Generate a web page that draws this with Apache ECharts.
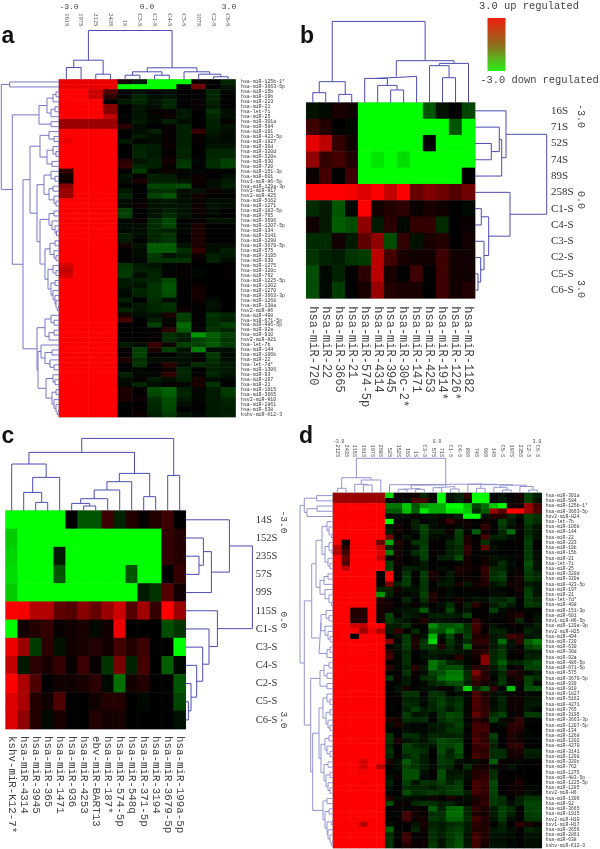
<!DOCTYPE html>
<html>
<head>
<meta charset="utf-8">
<title>miRNA heatmaps</title>
<script src="https://cdn.jsdelivr.net/npm/echarts@6/dist/echarts.min.js"></script>
<style>
html, body { margin: 0; padding: 0; background: #fff; }
#chart { width: 600px; height: 849px; }
</style>
</head>
<body>
<div id="chart"></div>
<script>
// panel a
var aCols = ["161S","197S","212S","243S","1S","C3-S","C1-S","C4-S","C5-S","107S","C2-S","C6-S"];
var aRows = ["hsa-miR-125b-1*","hsa-miR-3663-5p","hsa-miR-15b","hsa-miR-19b","hsa-miR-223","hsa-miR-21","hsa-let-7i","hsa-miR-25","hsa-miR-301a","hsa-miR-584","hsa-miR-191","hsa-miR-423-5p","hsa-miR-1827","hsa-miR-30d","hsa-miR-320d","hsa-miR-320e","hsa-miR-630","hsa-miR-720","hsa-miR-151-3p","hsa-miR-601","hsv1-miR-H6-5p","hsa-miR-129a-3p","hsv1-miR-H17","hsv2-miR-H25","hsa-miR-5162","hsa-miR-1271","hsa-miR-183-5p","hsa-miR-765","hsa-miR-3696","hsa-miR-1207-5p","hsa-miR-134","hsa-miR-3141","hsa-miR-1298","hsa-miR-3679-5p","hsa-miR-575","hsa-miR-3195","hsa-miR-939","hsa-miR-1275","hsa-miR-320c","hsa-miR-762","hsa-miR-1225-5p","hsa-miR-1202","hsa-miR-1270","hsa-miR-3663-3p","hsa-miR-1268","hsa-miR-138a","hsv2-miR-H6","hsa-miR-498","hsa-miR-671-5p","hsa-miR-486-5p","hsa-miR-92a","hsa-miR-910","hsv2-miR-H21","hsa-let-7b","hsa-miR-144","hsa-miR-106b","hsa-miR-22","hsa-let-7d*","hsa-miR-1306","hsa-miR-93","hsa-miR-197","hsa-miR-21","hsa-miR-1915","hsa-miR-3665","hsv2-miR-H10","hsa-miR-2861","hsa-miR-638","kshv-miR-K12-3"];
var aValues = [
[2.8,2.8,2.8,2.8,.3,-.4,-3,-3,-3,.2,0,-.6],
[2.8,2.8,2.8,2.8,-3,-3,-3,-3,0,1.6,0,-.3],
[3,3,2.5,1.2,0,-.2,.1,-.2,0,0,-.6,-.1],
[3,3,2.5,.6,-.1,-.6,-.2,-.3,0,0,-.6,0],
[3,3,3,0,-.4,-.6,-.3,-.6,0,.1,-.5,0],
[3,3,3,1.8,0,-.3,-.2,-.6,0,.1,-.4,0],
[3,3,3,1.8,0,-.3,.1,.1,-.4,0,-.8,-.2],
[3,3,3,2.4,-.1,-.3,-.1,.2,-.4,0,-.6,-.2],
[2,2,2,2,.1,-.4,-.1,-.5,-.2,0,-.5,.1],
[2,2,2,2,.6,-.2,0,.1,-.5,0,-.5,-.3],
[3,3,3,3,0,-.2,-.5,.1,-.5,.8,-.4,-.2],
[3,3,3,3,0,-.4,-.2,.1,-.5,.1,-.3,-.1],
[2.8,3,3,3,-.4,-.1,-.2,.1,-.5,.1,-.2,-.2],
[3,3,3,3,0,-.5,-.4,.2,-.5,0,-.3,-.3],
[3,3,3,3,0,-.6,-.4,.1,-.6,0,-.6,-.6],
[3,3,3,3,0,-.6,-.4,.1,-.5,0,-.6,-.6],
[3,3,3,3,.6,-.3,-.5,.3,-.8,-.1,-.7,-1],
[3,3,3,3,.7,-.6,-.5,.1,-.9,0,-.7,-1],
[.7,3,3,3,0,-.9,-.1,.2,-.1,-.1,0,0],
[.3,3,3,3,-.3,0,-.5,-.4,-.1,.2,0,-.2],
[.2,3,3,3,-.2,.4,-.5,-.5,-.3,.2,-.2,-.4],
[1.8,3,3,3,0,0,-1.1,-1.1,-1.2,.1,-.2,-.5],
[2,3,3,3,-.4,0,-.7,-.8,-.2,-.3,.2,-.1],
[2,3,3,3,-.6,0,-1,-1.3,-.2,.3,0,0],
[3,3,3,3,-.2,.1,-.3,-.4,-.2,.1,-.2,-.2],
[3,3,3,3,-.2,.2,-.3,-.3,-.3,.2,-.3,-.2],
[3,3,3,3,-1,0,-.3,-.5,-.3,.2,-.2,0],
[3,3,3,3,-1,0,-.3,-.7,-.3,.1,-.1,0],
[3,3,3,3,-.1,.1,-.7,-1.1,0,.1,-.3,-.3],
[3,3,3,3,-.2,-.2,-.7,-1.1,-.1,.4,0,0],
[3,3,3,3,-.1,-.2,-.6,-.5,-.1,.4,0,0],
[3,3,3,3,-.5,-.2,-.6,-.8,0,.4,0,0],
[3,3,3,3,-.4,0,-.6,-.8,0,.4,0,0],
[3,3,3,3,.3,-.3,-1.4,-1.4,-.3,.4,-.2,-.2],
[3,3,3,3,0,-.2,-1.4,-1.4,-.7,.7,-.2,-.5],
[3,3,3,3,.1,-.2,-.9,-.3,-.5,.2,-.5,-.4],
[3,3,3,3,0,-.1,-.8,-.8,-.8,.1,-.5,-.2],
[2.6,3,3,3,-.8,-.4,-.3,-.1,.1,0,0,0],
[2.4,3,3,3,-.9,-.5,-.5,-.1,.1,-.1,0,.1],
[2.6,3,3,3,-.9,-.2,-.6,0,.1,-.1,0,.1],
[3,3,3,3,-.4,-.5,-.6,-1.1,0,0,0,0],
[3,3,3,3,-.4,-.3,-.8,-1.3,0,.2,0,0],
[3,3,3,3,-.2,-.6,-.8,-1.3,0,.3,0,0],
[3,3,3,3,-.1,-.5,-.8,-1.2,0,.3,0,0],
[3,3,3,3,-.5,0,-.7,-.2,0,.2,-.2,0],
[3,3,3,3,-.1,-.4,-.6,-.8,0,.1,-.3,0],
[3,3,3,3,-.6,-.3,-.6,-.7,.2,0,-.2,0],
[3,3,3,3,.3,-.2,-.3,.4,-1,0,-.8,-.6],
[3,3,3,3,1,0,-.5,-.1,-1,.1,-.7,-.5],
[3,3,3,3,0,0,-1,.1,-1.6,0,-.7,-1],
[3,3,3,3,0,0,0,.6,-1.4,0,-.8,-.6],
[3,3,3,3,0,0,.1,-.7,-.5,-2,-1.5,-1],
[3,3,3,3,0,0,.1,-.7,-.4,-1,-1.3,-.8],
[3,3,3,3,-.4,-.2,.8,.2,-1,-1,-1.4,-.9],
[3,3,3,3,.1,-1,.4,-1,-.3,-1.8,-.2,-.2],
[3,3,3,3,.1,-1,0,0,-.3,-.1,-.9,-.1],
[3,3,3,3,.4,-.7,-.2,-.2,-.2,.1,-.7,-.2],
[3,3,3,3,0,-.8,0,.6,-.2,-.7,-.6,-.4],
[3,3,3,3,0,-.1,0,.2,-.6,0,-.5,-.4],
[3,3,3,3,-.5,-.1,-.1,.7,-.6,.1,-.6,-.3],
[3,3,3,3,-.2,.1,-.4,-.2,-.5,.3,-.2,-.1],
[3,3,3,3,-.1,-.6,-.2,.1,-.1,.4,-.8,0],
[3,3,3,3,.4,.1,-1.2,-1.5,-.5,-.1,-.4,-.9],
[3,3,3,3,.4,.1,-1.1,-1.5,-.6,-.1,-.4,-.9],
[3,3,3,3,.4,.2,-.7,-1.2,-.4,-.1,-.4,-.6],
[3,3,3,3,0,0,-.6,-1.2,-.2,0,-.4,-.5],
[3,3,3,3,0,.1,-.6,-1.1,0,0,-.4,-.4],
[3,3,3,3,0,.2,-.5,-.9,-.3,-.1,-.4,-.5]
];
// dendrograms are written [height, child, child], a bare number is a leaf index
var aTopTree = [49,
  [19.3,[12,0,1],[5.3,2,3]],
  [11.7,[7.7,[4.3,4,5],[4.3,6,7]],[7.7,8,[5.3,9,[2.7,10,11]]]]];
var aSideTree = [57.7,
  [49.3,0,1],
  [46.7,
    [20,[12,[6,[3,2,3],4],[8,[4,5,6],7]],[8,8,9]],
    [36,
      [29,
        [19,[10,10,[5,11,12]],[12,[6,13,[3,14,15]],[7,16,17]]],
        [22,
          [15,[8,18,[4,19,20]],[10,[6,21,22],[5,23,[3,24,25]]]],
          [19,
            [10,[5,26,27],[7,28,[4,29,[2.5,30,31]]]],
            [14,[9,[4,32,33],[5,34,[3,35,36]]],[11,[6,37,[3,38,39]],[8,[4,40,41],[6,42,[4,43,[3,44,[2,45,46]]]]]]]]]],
      [22,
        [14,[8,47,[5,48,49]],[10,[5,50,51],52]],
        [21,
          [18,53,[14,[7,54,55],[9,56,[5,57,58]]]],
          [13,[6,59,[4,60,61]],[7,[3,62,63],[5,64,[3,65,[2,66,67]]]]]]]]]];

// panel b
var bCols = ["hsa-miR-720","hsa-miR-22","hsa-miR-3665","hsa-miR-21","hsa-miR-574-5p","hsa-miR-4314","hsa-miR-3945","hsa-miR-30c-2*","hsa-miR-1471","hsa-miR-4253","hsa-miR-1914*","hsa-miR-1226*","hsa-miR-1182"];
var bRows = ["16S","71S","52S","74S","89S","258S","C1-S","C4-S","C3-S","C2-S","C5-S","C6-S"];
var bValues = [
[-.2,-.1,.3,.2,-3,-3,-3,-3,-3,-1,-.2,0,-.8],
[.7,.4,0,-.1,-3,-3,-3,-3,-3,-3,-3,-1,-3],
[2.7,2.2,.6,.2,-3,-3,-3,-3,-3,0,-3,-3,-3],
[1.7,.6,.8,.4,-3,-2.7,-3,-2.6,-3,-3,-3,-3,-3],
[.1,.8,0,.7,-3,-3,-3,-3,-3,-3,-3,-3,0],
[3,3,3,2.9,2.6,3,2.3,3,1.2,1.5,1.3,1,1.3],
[-.5,-.3,-1,-.1,3,.2,.4,.5,.1,.3,.2,0,-.1],
[.2,-.3,-1.1,-.9,1.7,-.3,.5,-.1,.6,.6,-.5,0,.1],
[-.5,-.5,.2,-.3,1.1,1.7,-.9,.6,-.2,.3,.4,0,.2],
[-.6,-.4,-.3,-.6,-.7,2.2,.8,.3,.2,.2,.7,.2,.2],
[-.9,-.1,-.4,0,.5,2.2,.3,0,.7,0,.7,.2,.2],
[-.9,-.1,-.7,0,.3,1.8,.4,.3,.3,0,.7,.2,.4]
];
var bTopTree = [81.3,
  [21,[10,0,1],[8.3,2,3]],
  [42,
    [26.3,[24.3,4,[17.3,5,[12.7,6,7]]],8],
    [39.3,[37,9,[25,10,11]],12]]];
var bSideTree = [71.7,
  [31,0,[26.7,[24.3,1,[16.3,2,3]],4]],
  [35,5,[13.7,[6.3,6,7],[9,8,[5.7,9,[3,10,11]]]]]];

// panel c
var cCols = ["kshv-miR-K12-7*","hsa-miR-4314","hsa-miR-3945","hsa-miR-365","hsa-miR-1471","hsa-miR-936","hsa-miR-4253","ebv-miR-BART13","hsa-miR-187*","hsa-miR-574-5p","hsa-miR-548q","hsa-miR-371-5p","hsa-miR-3194","hsa-miR-3679-5p","hsa-miR-199a-5p"];
var cRows = ["14S","152S","235S","57S","99S","115S","C1-S","C3-S","C4-S","C2-S","C5-S","C6-S"];
var cValues = [
[-3,-3,-3,-3,-3,0,-1,-1,.7,-.4,.4,.1,.4,.7,0],
[-2.4,-3,-3,-3,-3,-3,-3,-3,-3,-3,-3,-3,-3,.6,.4],
[-2.5,-3,-3,-3,-.3,-3,-3,-3,-3,-3,-3,-3,-3,.6,.4],
[-2.6,-3,-3,-3,-1,-3,-3,-3,-3,-3,-1,-3,-3,0,.6],
[-2.4,-3,-3,-3,-3,-3,-3,-3,-3,-3,-3,-.3,-.6,1,.2],
[3,2.9,2.1,2.1,1.1,1,1.6,1.2,1.8,2.4,1,1.9,.6,3,1.8],
[-3,.2,.4,.6,.1,.2,.3,-.1,.2,2.8,0,0,0,-.9,-.6],
[2.8,1.8,-.7,.5,-.2,.2,.3,.4,.2,.8,.4,.7,0,0,-3],
[2.3,-.3,.5,.3,.6,.1,.7,.1,-.6,1.4,-.4,.8,0,-1.1,-.1],
[3,2,.9,0,.2,.2,.3,.5,-.1,-1.3,.2,.4,0,0,-1],
[2.6,2,.4,.2,.9,0,0,.2,.4,.4,0,-.1,0,0,-.8],
[2.6,1.7,.4,-.1,.3,0,0,.4,.2,.3,0,0,0,0,-.2]
];
var cTopTree = [72.3,
  [58.3,
    [46.7,0,[33.3,[18.3,1,[8.3,2,3]],4]],
    [37.3,[29,[20.7,[12,[7.3,5,[4.7,6,7]],8],9],10],[14,11,12]]],
  [35.3,13,14]];
var cSideTree = [66.7,
  [43.7,0,[25.7,[17.7,1,[13.3,2,3]],4]],
  [31.7,5,[23.3,6,[17,7,[11,8,[5.3,9,[2.7,10,11]]]]]]];

// panel d
var dCols = ["212S","243S","115S","161S","197S","268S","52S","152S","16S","1S","C3-S","57S","71S","C1-S","C4-S","89S","74S","99S","14S","C5-S","107S","235S","C2-S","C6-S"];
var dRows = ["hsa-miR-301a","hsa-miR-584","hsa-miR-125b-1*","hsa-miR-3663-5p","hsv2-miR-H24","hsa-let-7b","hsa-miR-106b","hsa-miR-144","hsa-miR-22","hsa-miR-223","hsa-miR-19b","hsa-miR-15b","hsa-miR-21","hsa-let-7i","hsa-miR-25","hsa-miR-320d","hsa-miR-320e","hsa-miR-423-5p","hsa-miR-197","hsa-miR-21","hsa-let-7d*","hsa-miR-498","hsa-miR-151-3p","hsa-miR-601","hsv1-miR-H6-5p","hsa-miR-129a-3p","hsv2-miR-H25","hsa-miR-494","hsa-miR-720","hsa-miR-630","hsa-miR-30d","hsa-miR-92a","hsa-miR-486-5p","hsa-miR-671-5p","hsa-miR-575","hsa-miR-3679-5p","hsa-miR-939","hsa-miR-910","hsa-miR-1827","hsa-miR-5162","hsa-miR-4271","hsa-miR-765","hsa-miR-3195","hsa-miR-3663-3p","hsa-miR-1207-5p","hsa-miR-134","hsa-miR-1268","hsa-miR-1202","hsa-miR-4270","hsa-miR-3141","hsa-miR-1298","hsa-miR-320c","hsa-miR-762","hsa-miR-1275","hsa-miR-483-5p","hsa-miR-1225-5p","hsa-miR-1285","hsv2-miR-H6","hsa-miR-1306","hsa-miR-92","hsa-miR-3665","hsa-miR-1915","hsv2-miR-H10","hsv1-miR-H17","hsa-miR-3656","hsa-miR-2861","hsa-miR-638","kshv-miR-K12-3"];
var dValues = [
[2,2,2,2,2,2,-2.6,.1,.1,.3,-.6,0,-3,-.3,-.5,.6,-3,-3,0,-.3,0,.3,-1,-.5],
[2,2,2,2,2,2,.1,.2,-.2,1,1,.1,-3,-.2,-.6,.3,-3,-3,0,-.4,0,.2,-1,-.3],
[3,3,3,3,3,3,-1.7,-1.7,-2.5,-1.3,-2,-2.2,-2.2,-3,-3,-2.4,-1,-1.6,-2.5,-3,.3,.3,2,1],
[3,3,3,3,3,3,-1.4,-1.4,-2.4,-1.4,-2.8,-2.2,-2.2,-2.8,-2.8,-2.5,-.6,-1.4,2,1.3,3,3,2,1.2],
[3,3,3,3,3,3,0,-.2,-.2,.2,-.2,-.3,-.1,-.2,-.5,-3,-3,-.2,.5,.5,-.6,-.2,-1,-.8],
[3,3,3,3,3,3,-3,.1,.1,-.5,0,-.2,.2,.8,.2,.2,0,.2,0,-1,-.4,0,-1,-.7],
[3,3,3,3,3,3,-.3,.3,0,-.5,-1,-.2,-.1,0,-.1,.2,0,.7,0,-.8,-.2,.1,-.7,-.3],
[3,3,3,3,3,3,-.5,.3,0,-.2,-1,-.4,-.4,.2,-1,.1,-1.4,.3,0,-.6,-1.6,0,-.6,-.3],
[3,3,3,3,3,3,1.6,0,-.3,0,-.9,-.2,-.1,-.2,-.9,.4,0,1,-.5,-.6,-.2,.1,-.8,-.3],
[3,0,3,3,3,1.5,-2.2,.5,.1,-.8,-.9,.1,0,-.6,-.9,.4,.1,-.8,-.1,-.1,0,.1,-1,0],
[2.3,.6,3,3,3,2.4,-.6,.3,0,-.2,-1,.1,0,-.4,-.7,.8,0,1.3,-.2,-.1,0,0,-.9,0],
[2.3,1,3,3,3,2.7,-1.8,.3,-.1,-.7,-1,.1,-.1,-.5,-.7,.6,0,-.1,-.1,0,0,.1,-.9,-.2],
[3,1.5,3,3,3,2.4,0,.3,0,-.2,-1,.1,-.5,-.5,-1.2,.3,0,.2,-.3,-.2,-.1,.1,-.9,-.2],
[3,1.2,3,3,3,3,-1,.2,0,-.1,-.4,0,0,0,-.1,.3,0,.3,-.2,-.7,-.2,0,-1.3,-.3],
[3,2.4,3,3,3,3,-1,.1,-.5,-.4,-.4,0,-.2,-.1,.4,.3,.2,.7,-.6,-.6,-.1,.1,-1,-.3],
[3,3,3,3,3,0,3,0,-.8,0,-.9,.4,0,-.4,.3,.2,0,.6,-.7,-.9,0,.2,-.9,-.6],
[3,3,3,3,3,0,3,0,-.9,0,-.9,.3,-.2,-.4,.1,.2,.1,.5,-.8,-.9,.1,.3,-.9,-.7],
[3,3,3,3,3,.1,1.6,-.5,-.9,-.1,-.8,0,-.4,-.4,.3,-.4,.3,.5,-.3,-.6,.3,.3,-.4,-.3],
[3,3,3,3,3,-.6,-.5,.3,-.3,-.3,-.8,.1,.1,-.2,0,.1,.1,.1,-.2,-.1,.1,.3,-.9,-.3],
[3,3,3,3,3,-2,-.5,.1,-.1,-.2,-1,.5,.1,-.2,0,-.1,-.1,0,-.2,-.2,0,.2,-1,-.3],
[3,3,3,3,3,.5,.1,0,-.6,0,-.7,.4,0,-.1,.3,-.1,-.3,-.2,-.6,-.5,-.8,0,-.9,-.6],
[3,3,3,3,3,.3,.3,0,-.2,.1,-.3,0,-.2,-.7,.1,-.5,.6,.1,-.4,-.8,-.4,0,-.9,-.8],
[3,3,.5,.5,3,.3,.2,-.2,-.3,-.4,-1.4,-.1,-.1,-1.1,-.1,-.3,0,0,-1,-.2,.2,.1,-.1,-.1],
[3,3,.5,.5,3,.3,-1,.1,-.5,-.3,-.1,-.5,-.5,-.5,-.4,-1,0,.1,-.2,-.1,.3,.5,0,-.3],
[3,3,.5,.5,3,.3,-.9,-.5,-.3,.1,.5,-.2,-.3,-.2,-.1,-.1,.7,.1,0,0,.2,-.6,.1,-.3],
[3,3,2.6,2.4,3,3,-.5,-.4,-.7,.1,-.1,-1.9,-1.3,-1.3,-1.5,-.7,1,.2,-.3,-.1,.2,0,-.2,-.5],
[3,3,3,2,2.8,2.2,-.4,.8,.1,-.7,-.1,-1.4,-1.2,-1.9,-1.2,-.8,.9,.1,-.5,-.5,-.1,.1,-.6,-.3],
[3,3,0,3,3,3,.1,-.3,-.9,.3,-.3,-2.3,-.3,-1.1,.1,-1,.4,.4,-.3,-.5,1,.7,-.3,-.4],
[3,3,3,3,3,3,1.8,-.1,-.9,.5,-.8,-2.6,.1,-.8,-.3,-.6,.6,.7,-.4,-1.6,-.2,.7,-1.4,-1.8],
[3,3,3,3,3,3,0,-.3,-.9,.3,-.8,-.8,.5,-.6,-.2,-1.6,.3,.3,-.4,-.7,-.2,.1,-1,-1.3],
[3,3,3,3,3,3,.7,-.2,-.6,0,-.2,-.5,-.4,-.5,-.3,-.2,.4,.6,-.6,-.9,-.1,.2,-.4,-.4],
[3,3,3,3,3,3,1,-.1,-.7,0,-.3,-.3,-.2,-.1,.6,-.1,.3,1.8,-.6,-.9,0,.1,-.5,-.5],
[3,3,3,3,3,3,.1,-.1,-.7,0,-.1,-1.7,-1.3,-.6,-.4,-.1,.1,1.8,-.7,-1.4,-.5,-.6,-.9,-1.2],
[3,3,3,3,3,3,.6,-.1,-.5,.6,-.4,-1.7,-1,-1.2,-1.2,-.3,.6,.5,-.3,-1,0,.2,-1,-1],
[3,3,3,3,3,3,0,.1,-.8,.2,-.2,-1,-1.2,-1.7,-1.7,-.6,1.7,.5,-.2,-.6,.6,.3,-.1,-.4],
[3,3,3,3,3,3,-.9,.2,-.4,.1,-.7,-.8,-1.6,-1.8,-1.8,-.7,1,.6,0,-.8,.2,.4,-1,-.7],
[3,3,3,3,3,3,.1,-.1,-.4,0,-.1,-.6,-.8,-1.2,-1.3,-.5,.6,.3,-.2,-.8,-.1,.2,-1,-.2],
[3,3,3,3,3,3,0,-.3,.3,-.1,-.2,-.2,.2,.1,-.7,-2.6,-.6,-1.4,.7,-.1,-2.4,0,-1.2,-1.3],
[3,3,3,3,3,3,.1,-.2,-.8,-.8,0,-.8,-.7,-.1,-.2,0,1,.4,-.2,-.3,.1,.1,-.1,-.1],
[3,3,3,3,3,3,.1,.1,-.5,-.5,-.2,-.7,-.9,-.5,-.7,-.1,1.1,.6,-.2,-.6,.2,.2,-.3,-.3],
[3,3,3,3,3,3,-.1,.1,-.7,-.6,-.1,-.6,-1,-.6,-.9,-.1,1.1,.6,-.1,-.5,.2,.2,-.4,-.4],
[3,3,3,3,3,3,-.1,0,-.5,-1,-.4,-.6,-.8,-.4,-.8,-.1,1,.7,-.3,-.5,.2,.2,-.3,-.1],
[3,3,3,3,3,3,0,.1,-.9,-.3,-.4,-.1,-.8,-1.2,-1,-.1,1.4,.7,-.7,-1,0,.2,-.9,-.9],
[3,3,3,3,3,3,.5,.3,-.7,-.6,-.7,0,-.7,-1,-.8,0,.6,.3,-1,-.2,.2,.7,-.1,-.1],
[3,3,3,3,3,3,-.2,.4,-.2,-.1,-.1,-.4,-.4,-.6,-1,-.2,1,.8,-.1,-.2,.6,.6,0,0],
[3,3,3,3,3,3,0,0,-.2,-.1,-.1,-.3,-.4,-.8,-.8,0,1,.9,0,0,.6,.5,-.1,0],
[3,3,3,3,3,3,-.8,0,-.7,-.7,-.2,-.6,-.5,-.5,-.6,-.1,.9,.6,-1,0,.5,.2,-.1,-.1],
[3,3,3,3,3,3,-.8,.4,-.3,-.5,-.3,-.7,-1.2,-1,-.9,0,1.1,.6,-.7,0,.4,.3,-.1,-.1],
[3,3,3,3,3,3,-.5,.1,-1,-.6,-.5,-.3,-1.1,-1,-1.3,0,.8,.9,-.5,0,.6,.7,0,0],
[3,3,3,3,3,3,-.8,0,-.9,-.9,-.7,0,-1.2,-.5,-1.3,0,.8,.6,-.7,-.7,.3,.4,-.5,-.5],
[3,3,3,3,3,3,-.6,.1,-.6,-.9,-.4,0,-.9,-.6,-1,-.1,1,.7,-.7,-.7,.3,.2,-.4,-.4],
[3,3,3,2.6,3,3,.4,-.3,-1.4,-.8,-.4,-.1,-.9,-.8,-.2,-.1,-.2,.2,-1.4,.1,.1,-.1,0,.1],
[3,3,3,2.6,3,2.3,.1,-.2,-1,-.8,-.5,-.2,-.7,-.6,0,-.7,.3,.3,-.2,.1,-.3,0,0,.1],
[3,3,3,2.9,3,3,-.1,-.1,-1.2,-1.2,-.3,0,-1.2,-.3,-.3,-.2,.5,.5,-.7,0,0,0,0,0],
[3,3,3,3,3,3,-.3,.2,-1.2,-1.2,-.1,0,-1.2,-.4,-.5,-.2,.5,.7,-.7,.1,0,.2,0,0],
[3,3,3,2.9,3,3,-.5,0,-1,-.3,-.8,-.7,-1,-.5,-.9,-.1,1,.8,-1.1,0,.2,.4,0,0],
[3,3,3,3,3,3,-.3,0,-.7,-.6,-.6,-.4,-.7,-.9,-1,0,1,.7,-1,0,.2,.3,-.1,-.1],
[3,3,3,3,3,3,-.1,0,-1.2,-.7,-.8,-.9,-.7,-.9,-1,-.4,.9,.7,-1,0,.2,.2,-.2,-.1],
[3,3,3,3,3,3,.5,-.2,-.2,-.2,-.1,.2,0,.4,.1,-.2,.4,.6,-.9,-.7,0,-.5,-.8,-.8],
[3,3,3,3,3,3,-1.2,.1,.1,-.6,-.8,-.7,-.4,-.6,-.2,-.1,.4,.7,-.9,-.7,-.2,-.5,-1.1,-1],
[3,3,3,3,3,3,0,.1,-.1,.2,0,-1.5,-.5,-1.5,-1.6,-.6,.7,.4,-.4,-1,-.7,.1,-1,-1.1],
[3,3,3,3,3,3,0,-.1,1,.3,.1,-.7,-.7,-1.6,-1.6,-.6,.4,.3,-.4,-1,-.5,.1,-.9,-1],
[3,3,3,3,3,3,.1,.1,.9,.2,.3,-.9,-.7,-1.5,-1.5,-.7,1,.5,-.3,-.9,-.2,0,-.8,-.9],
[3,3,3,2.3,3,3,-.3,0,.1,-.3,.3,-.5,-.4,-.6,-.8,-.4,.6,.4,.1,-.5,0,.6,.4,.1],
[3,3,3,3,3,3,-1.5,-.1,0,-.6,.2,-.7,-.4,-.8,-1,-.4,.5,.5,-.3,-.5,-.2,.1,-.6,-.4],
[3,3,3,3,3,3,-.7,-.1,.8,.1,.1,-.7,-.5,-.9,-1.1,-.3,.9,.5,-.3,-.3,-.2,0,-.3,-.3],
[3,3,3,3,3,3,-.8,0,.9,.1,.2,-.7,-.3,-.8,-1.2,-.3,1,.4,-.2,-.2,-.1,0,-.2,-.2],
[3,3,3,3,3,3,-.8,0,.5,.1,.2,-.9,-.3,-.9,-1.3,-.4,.9,.2,-.3,-.3,-.1,0,-.2,-.2]
];
var dTopTree = [34.7,
  [15.3,[4.7,0,1],[13,[8.7,2,[8,3,4]],5]],
  [9,
    [8.3,6,[8,[4.5,[3.7,7,8],[3.7,9,10]],[6.5,[5.3,11,12],[4,13,14]]]],
    [8.7,15,[8.3,[4.7,16,17],[7.8,[5.7,18,[3,19,20]],[6.5,21,[3,22,23]]]]]]];
var dSideTree = [33,
  [28.7,[16.3,0,1],[26,[16,2,3],4]],
  [28.7,
    [21.3,
      [17,[11,[6,5,[4,6,[2,7,8]]],[8,[4,9,[2,10,11]],[5,12,[3,13,14]]]],[13,[9,[5,15,16],17],[8,18,[4,19,[2,20,21]]]]],
      [14,[12,[7,22,[4,23,24]],[8,25,[5,26,[3,27,28]]]],[6,[3,29,30],31]]],
    [22.3,
      [13,[9,[4,32,33],[6,34,35]],[6,36,37]],
      [20.3,
        [14,[10,[6,38,[3,39,40]],[7,[3,41,42],[5,43,[3,44,45]]]],[12,[8,[4,46,47],[6,48,[3,49,50]]],[9,[5,51,52],[7,[3,53,54],[5,55,[3,56,57]]]]]],
        [10,[6,58,59],[8,[4,60,61],[6,[2,62,63],[5,64,[3,65,[2,66,67]]]]]]]]]];

var legendTicks = ["3.0 up regulated","-3.0 down regulated"];
var scaleTicks = ["-3.0","0.0","3.0"];

var grids = [], xAxes = [], yAxes = [], series = [];
var monoFont = '"Liberation Mono", monospace';
var serifFont = '"Liberation Serif", serif';

function addHeat(box, cols, rows, values, colLabel, rowLabel) {
  var idx = grids.length;
  var data = [];
  rows.forEach(function (r, j) {
    cols.forEach(function (c, i) {
      data.push([i, j, values[j][i]]);
    });
  });
  grids.push({ left: box[0], top: box[1], width: box[2], height: box[3], show: true, borderColor: "#b8b8b8", borderWidth: 1, backgroundColor: "transparent" });
  xAxes.push({
    type: "category", gridIndex: idx, data: cols, position: colLabel.position,
    axisLine: { show: false }, axisTick: { show: false }, splitLine: { show: false },
    axisLabel: { interval: 0, rotate: colLabel.rotate, margin: colLabel.margin, fontSize: colLabel.size, fontFamily: colLabel.font, color: "#444" }
  });
  yAxes.push({
    type: "category", gridIndex: idx, data: rows, inverse: true, position: "right",
    axisLine: { show: false }, axisTick: { show: false }, splitLine: { show: false },
    axisLabel: { interval: 0, margin: rowLabel.margin, fontSize: rowLabel.size, fontFamily: rowLabel.font, color: "#333", align: "left" }
  });
  series.push({ type: "heatmap", xAxisIndex: idx, yAxisIndex: idx, data: data, animation: false, itemStyle: { borderWidth: 0 } });
}

// walks the tree, returns [leaf position, height] of the node
function walk(node, pts) {
  if (typeof node === "number") return [node + 0.5, 0];
  var a = walk(node[1], pts);
  var b = walk(node[2], pts);
  pts.push([a[0], a[1]], [a[0], node[0]], [b[0], node[0]], [b[0], b[1]], ["-", "-"]);
  return [(a[0] + b[0]) / 2, node[0]];
}

// side: top, left or right of the heatmap, box is [left, top, width, height]
function addTree(box, tree, count, side, color) {
  var idx = grids.length;
  var pts = [];
  walk(tree, pts);
  var horizontal = side !== "top";
  var depth = horizontal ? box[2] : box[3];
  var leaf = { type: "value", gridIndex: idx, min: 0, max: count, show: false, inverse: horizontal };
  var height = { type: "value", gridIndex: idx, min: 0, max: depth, show: false, inverse: side === "left" };
  grids.push({ left: box[0], top: box[1], width: box[2], height: box[3] });
  xAxes.push(horizontal ? height : leaf);
  yAxes.push(horizontal ? leaf : height);
  series.push({
    type: "line", xAxisIndex: idx, yAxisIndex: idx, animation: false, clip: false, showSymbol: false, silent: true,
    connectNulls: false, lineStyle: { color: color, width: 1 },
    data: horizontal ? pts.map(function (p) { return [p[1], p[0]]; }) : pts
  });
}

// heat boxes
var aBox = [59, 79.5, 176.5, 337.5];
var bBox = [306.3, 102.7, 168.7, 195.6];
var cBox = [5.7, 510.7, 180, 218.3];
var dBox = [333, 493, 208.7, 355];

addHeat(aBox, aCols, aRows, aValues, { position: "top", rotate: 90, margin: 53, size: 6.5, font: serifFont }, { margin: 5.5, size: 4.9, font: monoFont });
addHeat(bBox, bCols, bRows, bValues, { position: "bottom", rotate: -90, margin: 8, size: 12, font: monoFont }, { margin: 76, size: 11, font: serifFont });
addHeat(cBox, cCols, cRows, cValues, { position: "bottom", rotate: -90, margin: 7, size: 10.8, font: monoFont }, { margin: 70, size: 10.5, font: serifFont });
addHeat(dBox, dCols, dRows, dValues, { position: "top", rotate: 90, margin: 36, size: 5.2, font: monoFont }, { margin: 4, size: 4.7, font: monoFont });

var treeBlue = "#4c4cb4", treePale = "#7676c6", treeFaint = "#9393d2";
addTree([aBox[0], aBox[1] - 50, aBox[2], 50], aTopTree, 12, "top", treeBlue);
addTree([0, aBox[1], aBox[0], aBox[3]], aSideTree, 68, "left", treePale);
addTree([bBox[0], bBox[1] - 85, bBox[2], 85], bTopTree, 13, "top", treeBlue);
addTree([bBox[0] + bBox[2], bBox[1], 75, bBox[3]], bSideTree, 12, "right", treeBlue);
addTree([cBox[0], cBox[1] - 75, cBox[2], 75], cTopTree, 15, "top", treeBlue);
addTree([cBox[0] + cBox[2], cBox[1], 70, cBox[3]], cSideTree, 12, "right", treeBlue);
addTree([dBox[0], dBox[1] - 36, dBox[2], 36], dTopTree, 24, "top", treeFaint);
addTree([dBox[0] - 33, dBox[1], 33, dBox[3]], dSideTree, 68, "left", treeFaint);

function label(text, x, y, size, rotation, family, weight, color) {
  return {
    type: "text", x: x, y: y, rotation: rotation || 0, silent: true,
    style: { text: text, fontSize: size, fontFamily: family || monoFont, fontWeight: weight || "normal", fill: color || "#444", align: "center", verticalAlign: "middle" }
  };
}
var down = -Math.PI / 2;
var letterFont = '"Liberation Sans", Arial, sans-serif';
var graphics = [
  label("a", 8, 36.5, 23, 0, letterFont, "bold", "#111"),
  label("b", 307, 36.5, 23, 0, letterFont, "bold", "#111"),
  label("c", 8, 436.5, 23, 0, letterFont, "bold", "#111"),
  label("d", 306, 437, 23, 0, letterFont, "bold", "#111"),
  label(scaleTicks[0], 69, 6.5, 8), label(scaleTicks[1], 147, 6.5, 8), label(scaleTicks[2], 229, 6.5, 8),
  label(scaleTicks[0], 580.7, 116, 10, down), label(scaleTicks[1], 580.7, 200, 10, down), label(scaleTicks[2], 580.7, 289, 10, down),
  label(scaleTicks[0], 284, 522, 9.5, down), label(scaleTicks[1], 284, 620, 9.5, down), label(scaleTicks[2], 284, 720, 9.5, down),
  label(scaleTicks[0], 338.7, 441.7, 4.6), label(scaleTicks[1], 437, 441.7, 4.6), label(scaleTicks[2], 537, 441.7, 4.6),
  label(legendTicks[0], 529, 6, 10.4),
  label(legendTicks[1], 539.5, 80, 10.4),
  {
    type: "rect", shape: { x: 487.5, y: 18, width: 18, height: 53 }, silent: true,
    style: { fill: new echarts.graphic.LinearGradient(0, 0, 0, 1, [
      { offset: 0, color: "#f0200f" }, { offset: 0.5, color: "#8f6a1c" }, { offset: 1, color: "#2cf01a" }
    ]) }
  }
];

var myChart = echarts.init(document.getElementById("chart"), null, { renderer: "canvas" });
myChart.setOption({
  animation: false,
  backgroundColor: "#fff",
  grid: grids,
  xAxis: xAxes,
  yAxis: yAxes,
  // the two big panels a and d sit a little darker in the middle of the scale
  visualMap: [
    { show: false, type: "continuous", min: -3, max: 3, seriesIndex: [1, 2], dimension: 2,
      inRange: { color: ["#00ff00", "#000000", "#ff0000"] } },
    { show: false, type: "continuous", min: -3, max: 3, seriesIndex: [0, 3], dimension: 2,
      inRange: { color: ["#00ff00", "#006000", "#000000", "#680000", "#ff0000"] } }
  ],
  series: series,
  graphic: graphics
});
</script>
</body>
</html>
